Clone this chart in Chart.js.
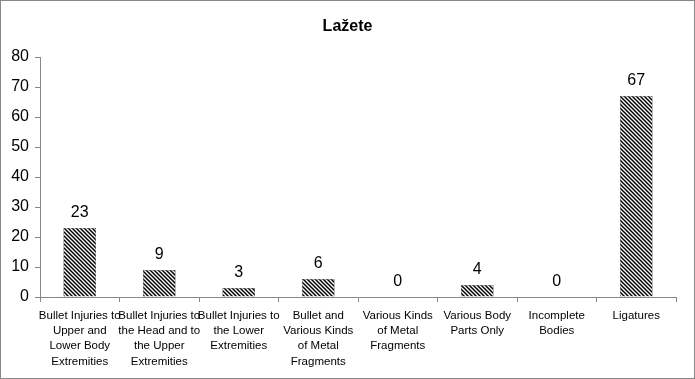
<!DOCTYPE html>
<html>
<head>
<meta charset="utf-8">
<script src="https://cdn.jsdelivr.net/npm/chart.js@4/dist/chart.umd.min.js"></script>
<style>
  html, body { margin: 0; padding: 0; background: #fff; }
  #wrap { width: 695px; height: 379px; position: relative; }
</style>
</head>
<body>
<div id="wrap"><canvas id="chart" width="695" height="379"></canvas></div>
<script>
var titleText = 'Lažete';
var categories = [
  ['Bullet Injuries to', 'Upper and', 'Lower Body', 'Extremities'],
  ['Bullet Injuries to', 'the Head and to', 'the Upper', 'Extremities'],
  ['Bullet Injuries to', 'the Lower', 'Extremities'],
  ['Bullet and', 'Various Kinds', 'of Metal', 'Fragments'],
  ['Various Kinds', 'of Metal', 'Fragments'],
  ['Various Body', 'Parts Only'],
  ['Incomplete', 'Bodies'],
  ['Ligatures']
];
var values = [23, 9, 3, 6, 0, 4, 0, 67];
var yMin = 0, yMax = 80, yStep = 10;

function hatch() {
  var c = document.createElement('canvas');
  c.width = 4; c.height = 4;
  var g = c.getContext('2d');
  g.fillStyle = '#fff';
  g.fillRect(0, 0, 4, 4);
  g.strokeStyle = '#000';
  g.lineWidth = 1.5;
  g.beginPath();
  g.moveTo(-1, -1); g.lineTo(5, 5);
  g.moveTo(3, -1); g.lineTo(5, 1);
  g.moveTo(-1, 3); g.lineTo(1, 5);
  g.stroke();
  return g.createPattern(c, 'repeat');
}

var frame = {
  id: 'frame',
  afterDraw: function(chart) {
    var ctx = chart.ctx;
    ctx.save();
    ctx.strokeStyle = '#888';
    ctx.lineWidth = 1;
    ctx.strokeRect(0.5, 0.5, chart.width - 1, chart.height - 1);
    ctx.fillStyle = '#000';
    ctx.font = 'bold 16px "Liberation Sans", Arial, sans-serif';
    ctx.textAlign = 'center';
    ctx.textBaseline = 'middle';
    ctx.fillText(titleText, chart.width / 2, 27);
    ctx.font = '16px "Liberation Sans", Arial, sans-serif';
    var meta = chart.getDatasetMeta(0);
    meta.data.forEach(function(bar, i) {
      ctx.fillText(String(values[i]), bar.x, bar.y - 15);
    });
    ctx.restore();
  }
};

Chart.defaults.font.family = '"Liberation Sans", Arial, sans-serif';
Chart.defaults.color = '#000';

new Chart(document.getElementById('chart').getContext('2d'), {
  type: 'bar',
  data: {
    labels: categories,
    datasets: [{
      data: values,
      backgroundColor: hatch(),
      borderColor: '#000',
      borderWidth: 0.5,
      categoryPercentage: 1,
      barPercentage: 0.41
    }]
  },
  options: {
    responsive: false,
    animation: false,
    layout: { padding: { top: 57, right: 19, left: 0, bottom: 10 } },
    plugins: {
      legend: { display: false },
      title: { display: false },
      tooltip: { enabled: false }
    },
    scales: {
      x: {
        offset: true,
        border: { color: '#888', width: 1 },
        grid: { display: true, offset: true, drawOnChartArea: false, tickLength: 5, color: '#888' },
        ticks: { font: { size: 11.5, lineHeight: 1.33 }, padding: 6, maxRotation: 0, autoSkip: false, color: '#000' },
        afterFit: function(scale) { scale.height = 72; }
      },
      y: {
        min: yMin,
        max: yMax,
        border: { color: '#888', width: 1 },
        grid: { display: true, drawOnChartArea: false, tickLength: 5, color: '#888' },
        ticks: { stepSize: yStep, font: { size: 16 }, padding: 6, color: '#000' },
        afterFit: function(scale) { scale.width = 40; }
      }
    }
  },
  plugins: [frame]
});
</script>
</body>
</html>
